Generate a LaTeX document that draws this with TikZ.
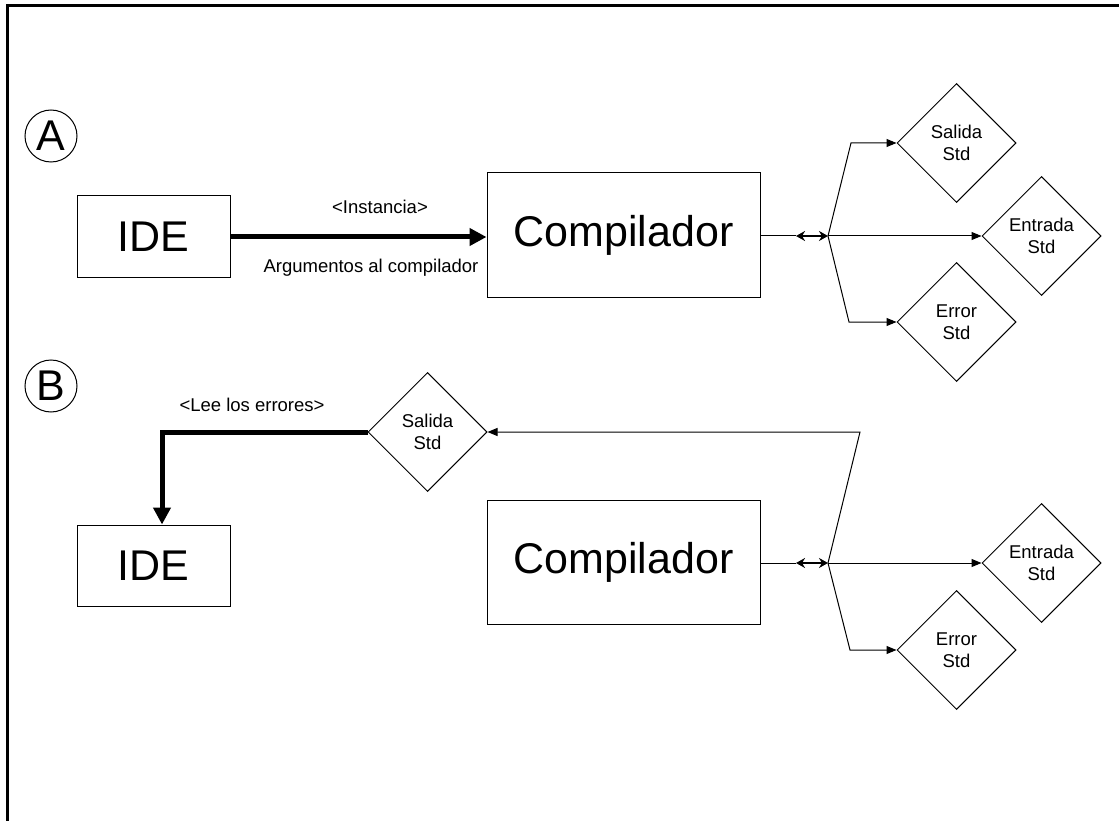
\documentclass[tikz,border=0pt]{standalone}
\usepackage{fontspec}
\setmainfont{Liberation Sans}
\usetikzlibrary{shapes.geometric,arrows.meta}
\begin{document}
\begin{tikzpicture}[x=1pt,y=-1pt,
  bigfont/.style={font=\fontsize{43}{50}\selectfont},
  smallfont/.style={font=\fontsize{18.5}{21.5}\selectfont},
  box/.style={draw,line width=1pt,rectangle,inner sep=0pt,bigfont},
  ibox/.style={box,minimum width=153pt,minimum height=81pt},
  cbox/.style={box,minimum width=273pt,minimum height=124pt},
  stream/.style={draw,line width=1pt,diamond,aspect=1,inner sep=0pt,
    minimum width=119pt,minimum height=119pt,align=center,smallfont},
  tag/.style={draw,line width=1pt,circle,minimum size=52pt,inner sep=0pt,bigfont},
  lbl/.style={inner sep=0pt,smallfont},
  thin/.style={line width=1pt,-{Triangle[length=10pt,width=8pt]}},
  heavy/.style={line width=5pt,-{Triangle[length=17pt,width=17pt]}},
  both/.style={line width=2pt,{Stealth[length=9pt,width=10pt]}-{Stealth[length=9pt,width=10pt]}},
  plain/.style={line width=1pt}]
\useasboundingbox (0,0) rectangle (1119,821);
% outer frame (top and left edges in view)
\draw[line width=3pt] (7,821) -- (7,6) -- (1119,6);

% ---- part A: the IDE launches the compiler
\node[tag] (circA) at (51,136) {A};
\node[ibox] (ideA) at (153.5,236.5) {IDE};
\node[cbox] (compA) at (623.5,235) {Compilador};
\node[stream] (saA) at (956.5,143) {Salida\\Std};
\node[stream] (enA) at (1041.5,236) {Entrada\\Std};
\node[stream] (erA) at (956.5,322) {Error\\Std};
\coordinate (dA) at (796,236);
\coordinate (brA) at (828,236);
\coordinate (upA) at (851,143);
\coordinate (loA) at (849,322);

\draw[heavy] (ideA.east |- 0,237) -- (compA.west |- 0,237);
\node[lbl] (instA) at (380,207) {<Instancia>};
\node[lbl] (argA) at (371,268) {Argumentos al compilador};

\draw[plain] (compA.east |- dA) -- (dA);
\draw[both] (dA) -- (brA);
\draw[thin] (brA) -- (upA) -- (saA.west);
\draw[thin] (brA) -- (enA.west);
\draw[thin] (brA) -- (loA) -- (erA.west);

% ---- part B: the IDE reads the compiler's errors
\node[tag] (circB) at (51,386) {B};
\node[ibox] (ideB) at (153.5,565.5) {IDE};
\node[cbox] (compB) at (623.5,562) {Compilador};
\node[stream] (saB) at (427.5,432) {Salida\\Std};
\node[stream] (enB) at (1041.5,563) {Entrada\\Std};
\node[stream] (erB) at (956.5,650) {Error\\Std};
\coordinate (dB) at (796,563);
\coordinate (brB) at (828,563);
\coordinate (upB) at (860,432);
\coordinate (loB) at (850,650);
\coordinate (kB) at (162,432);

\draw[heavy] (saB.west) -- (kB) -- (kB |- ideB.north);
\node[lbl] (leeB) at (252,405) {<Lee los errores>};

\draw[plain] (compB.east |- dB) -- (dB);
\draw[both] (dB) -- (brB);
\draw[thin] (brB) -- (upB) -- (saB.east);
\draw[thin] (brB) -- (enB.west);
\draw[thin] (brB) -- (loB) -- (erB.west);
\end{tikzpicture}
\end{document}
